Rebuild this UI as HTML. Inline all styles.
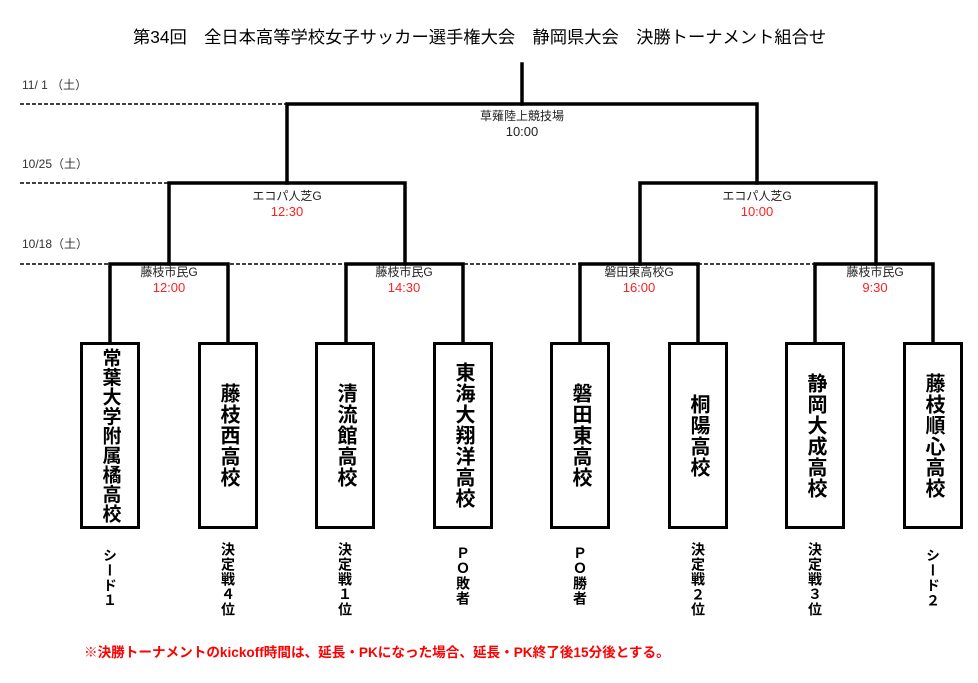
<!DOCTYPE html>
<html><head><meta charset="utf-8"><style>
body{margin:0;width:978px;height:683px;background:#fff;position:relative;overflow:hidden;font-family:"Liberation Sans","Noto Sans CJK JP",sans-serif;}
.t{position:absolute;white-space:nowrap;}
.box{position:absolute;top:342px;width:54px;height:181px;border:3px solid #000;display:flex;align-items:center;justify-content:center;}
.box span{writing-mode:vertical-rl;font-size:20px;font-weight:bold;letter-spacing:1px;line-height:1;white-space:nowrap;}
.lab{position:absolute;top:542px;width:40px;display:flex;justify-content:center;}
.lab span{writing-mode:vertical-rl;font-size:14px;font-weight:bold;line-height:1;letter-spacing:1px;white-space:nowrap;}
.v{position:absolute;text-align:center;width:120px;font-size:12px;line-height:15px;color:#222;}
.v b{font-weight:normal;color:#ff2020;font-size:13px;}
</style></head><body>
<div class="t" style="left:133px;top:23px;font-size:17.3px;">第34回　全日本高等学校女子サッカー選手権大会　静岡県大会　決勝トーナメント組合せ</div>
<div class="t" style="left:22px;top:76px;font-size:12px;color:#333;">11/ 1 （土）</div>
<div class="t" style="left:22px;top:155px;font-size:12px;color:#333;">10/25（土）</div>
<div class="t" style="left:22px;top:235px;font-size:12px;color:#333;">10/18（土）</div>
<svg width="978" height="683" style="position:absolute;left:0;top:0">
<g stroke="#000" stroke-width="1.5" stroke-dasharray="4,2">
<line x1="20" y1="104" x2="287" y2="104"/>
<line x1="20" y1="183" x2="169" y2="183"/>
<line x1="20" y1="264" x2="815" y2="264"/>
</g>
<g stroke="#000" stroke-width="3.5" fill="none" stroke-linecap="square">
<line x1="522" y1="64" x2="522" y2="104"/>
<polyline points="287,183 287,104 757,104 757,183"/>
<polyline points="169,264 169,183 405,183 405,264"/>
<polyline points="640,264 640,183 876,183 876,264"/>
<polyline points="110,342 110,264 228,264 228,342"/>
<polyline points="346,342 346,264 463,264 463,342"/>
<polyline points="580,342 580,264 698,264 698,342"/>
<polyline points="815,342 815,264 933,264 933,342"/>
</g>
</svg>
<div class="v" style="left:462px;top:109px;">草薙陸上競技場<br><span style="font-size:13px">10:00</span></div>
<div class="v" style="left:227px;top:189px;">エコパ人芝G<br><b>12:30</b></div>
<div class="v" style="left:697px;top:189px;">エコパ人芝G<br><b>10:00</b></div>
<div class="v" style="left:109px;top:265px;">藤枝市民G<br><b>12:00</b></div>
<div class="v" style="left:344px;top:265px;">藤枝市民G<br><b>14:30</b></div>
<div class="v" style="left:579px;top:265px;">磐田東高校G<br><b>16:00</b></div>
<div class="v" style="left:815px;top:265px;">藤枝市民G<br><b>9:30</b></div>
<div class="box" style="left:80px"><span style="font-size:19px;letter-spacing:0.5px">常葉大学附属橘高校</span></div>
<div class="box" style="left:198px"><span>藤枝西高校</span></div>
<div class="box" style="left:315px"><span>清流館高校</span></div>
<div class="box" style="left:433px"><span>東海大翔洋高校</span></div>
<div class="box" style="left:550px"><span>磐田東高校</span></div>
<div class="box" style="left:668px"><span>桐陽高校</span></div>
<div class="box" style="left:785px"><span>静岡大成高校</span></div>
<div class="box" style="left:903px"><span>藤枝順心高校</span></div>
<div class="lab" style="left:90px;top:548px"><span>シード１</span></div>
<div class="lab" style="left:208px"><span>決定戦４位</span></div>
<div class="lab" style="left:325px"><span>決定戦１位</span></div>
<div class="lab" style="left:443px;top:546px"><span>ＰＯ敗者</span></div>
<div class="lab" style="left:560px;top:546px"><span>ＰＯ勝者</span></div>
<div class="lab" style="left:678px"><span>決定戦２位</span></div>
<div class="lab" style="left:795px"><span>決定戦３位</span></div>
<div class="lab" style="left:913px;top:548px"><span>シード２</span></div>
<div class="t" style="left:84px;top:641px;font-size:13.6px;font-weight:bold;color:#ff0000;">※決勝トーナメントのkickoff時間は、延長・PKになった場合、延長・PK終了後15分後とする。</div>
</body></html>
